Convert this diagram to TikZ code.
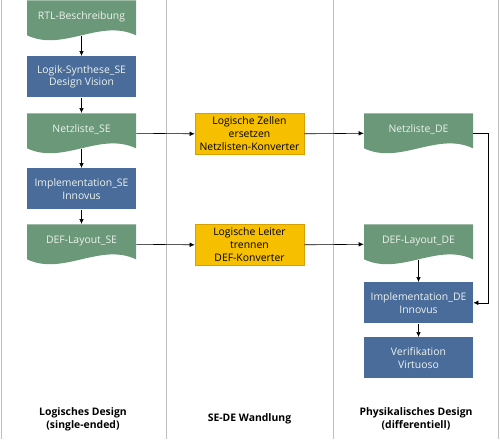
\documentclass[tikz,border=0pt]{standalone}
\usepackage{fontspec}
\setmainfont{Open Sans}
\usetikzlibrary{arrows.meta}

\definecolor{docgreen}{RGB}{107,152,121}
\definecolor{procblue}{RGB}{74,108,155}
\definecolor{convyellow}{RGB}{246,192,0}
\definecolor{convborder}{RGB}{214,160,0}
\definecolor{lanegray}{RGB}{190,190,190}
\definecolor{boxtext}{RGB}{236,243,237}

\newcommand{\boxfont}{\fontsize{10.4}{12.8}\selectfont}

\tikzset{
	doc/.style={anchor=north, minimum width=109pt, minimum height=40pt, inner sep=0pt,
		text height=7.5pt, text depth=10pt, text=boxtext, font=\boxfont,
		path picture={
			\fill[docgreen] (path picture bounding box.north west) -- (path picture bounding box.north east)
				-- ([yshift=5pt]path picture bounding box.south east)
				.. controls ([xshift=-36pt,yshift=22pt]path picture bounding box.south east)
				and ([xshift=36pt,yshift=-12pt]path picture bounding box.south west)
				.. ([yshift=5pt]path picture bounding box.south west) -- cycle;
		}},
	proc/.style={anchor=north, fill=procblue, minimum width=109pt, minimum height=41pt,
		inner sep=0pt, align=center, text=boxtext, font=\boxfont},
	conv/.style={anchor=north, fill=convyellow, draw=convborder, minimum width=109pt,
		minimum height=41pt, inner sep=0pt, align=center, font=\boxfont},
	lane/.style={align=center, font=\boxfont\bfseries},
}

\begin{document}
\begin{tikzpicture}[x=1pt, y=-1pt, >={Latex[length=5pt,width=4.5pt]}, line width=0.6pt]
	\useasboundingbox (0,0) rectangle (500,439);

	% Swimlanes
	\draw[lanegray] (1,0) -- (1,439);
	\draw[lanegray] (166,0) -- (166,439);
	\draw[lanegray] (333,0) -- (333,439);
	\draw[lanegray] (498,0) -- (498,439);

	% Logisches Design
	\node[doc] (rtl) at (81.5,0) {RTL-Beschreibung};
	\node[proc] (synthse) at (81.5,56) {Logik-Synthese\_SE\\Design Vision};
	\node[doc] (netzse) at (81.5,113) {Netzliste\_SE};
	\node[proc] (implse) at (81.5,168) {Implementation\_SE\\Innovus};
	\node[doc] (defse) at (81.5,224) {DEF-Layout\_SE};

	% SE-DE Wandlung
	\node[conv] (ersetzen) at (249.5,113) {Logische Zellen\\ersetzen\\Netzlisten-Konverter};
	\node[conv] (trennen) at (249.5,224) {Logische Leiter\\trennen\\DEF-Konverter};

	% Physikalisches Design
	\node[doc] (netzde) at (418.5,113) {Netzliste\_DE};
	\node[doc] (defde) at (418.5,224) {DEF-Layout\_DE};
	\node[proc] (implde) at (418.5,282) {Implementation\_DE\\Innovus};
	\node[proc] (verif) at (418.5,337) {Verifikation\\Virtuoso};

	% Flow
	\draw[->] ([yshift=5pt]rtl.south) -- (synthse.north);
	\draw[->] (synthse.south) -- (netzse.north);
	\draw[->] ([yshift=5pt]netzse.south) -- (implse.north);
	\draw[->] (implse.south) -- (defse.north);
	\draw[->] (netzse.east) -- (ersetzen.west);
	\draw[->] (ersetzen.east) -- (netzde.west);
	\draw[->] (defse.east) -- (trennen.west);
	\draw[->] (trennen.east) -- (defde.west);
	\draw[->] (netzde.east) -- ++(15,0) |- (implde.east);
	\draw[->] ([yshift=5pt]defde.south) -- (implde.north);
	\draw[->] (implde.south) -- (verif.north);

	% Lane titles
	\node[lane] (titlelog) at (83,419) {Logisches Design\\(single-ended)};
	\node[lane] (titlewand) at (249.5,419) {SE-DE Wandlung};
	\node[lane] (titlephys) at (416,419) {Physikalisches Design\\(differentiell)};
\end{tikzpicture}
\end{document}
